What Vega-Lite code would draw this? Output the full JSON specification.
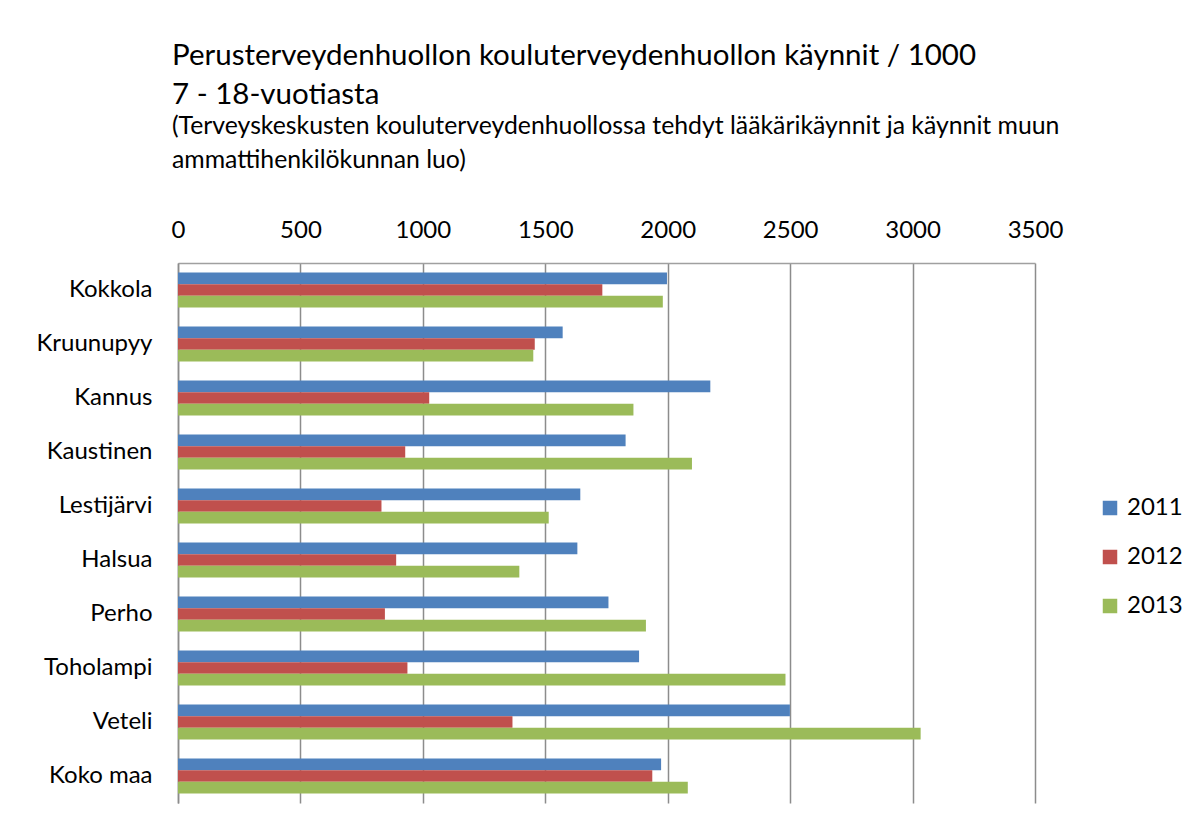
{
  "$schema": "https://vega.github.io/schema/vega-lite/v6.json",
  "width": 857,
  "height": 540,
  "autosize": {"type": "none"},
  "padding": {"left": 178, "top": 263, "right": 167, "bottom": 21},
  "background": "white",
  "title": {
    "text": ["Perusterveydenhuollon kouluterveydenhuollon käynnit / 1000", "7 - 18-vuotiasta"],
    "subtitle": ["(Terveyskeskusten kouluterveydenhuollossa tehdyt lääkärikäynnit ja käynnit muun", "ammattihenkilökunnan luo)"],
    "anchor": "start",
    "frame": "group",
    "dx": -6,
    "offset": 44,
    "font": "Lato",
    "fontSize": 29.5,
    "fontWeight": "normal",
    "color": "black",
    "lineHeight": 39,
    "subtitleFont": "Lato",
    "subtitleFontSize": 24.8,
    "subtitleColor": "black",
    "subtitleLineHeight": 34,
    "subtitlePadding": 4
  },
  "data": {
    "values": [
      {"alue": "Kokkola", "vuosi": "2011", "arvo": 1997},
      {"alue": "Kokkola", "vuosi": "2012", "arvo": 1733},
      {"alue": "Kokkola", "vuosi": "2013", "arvo": 1980},
      {"alue": "Kruunupyy", "vuosi": "2011", "arvo": 1571},
      {"alue": "Kruunupyy", "vuosi": "2012", "arvo": 1457},
      {"alue": "Kruunupyy", "vuosi": "2013", "arvo": 1451},
      {"alue": "Kannus", "vuosi": "2011", "arvo": 2174},
      {"alue": "Kannus", "vuosi": "2012", "arvo": 1026},
      {"alue": "Kannus", "vuosi": "2013", "arvo": 1860},
      {"alue": "Kaustinen", "vuosi": "2011", "arvo": 1828},
      {"alue": "Kaustinen", "vuosi": "2012", "arvo": 928},
      {"alue": "Kaustinen", "vuosi": "2013", "arvo": 2099},
      {"alue": "Lestijärvi", "vuosi": "2011", "arvo": 1643},
      {"alue": "Lestijärvi", "vuosi": "2012", "arvo": 831},
      {"alue": "Lestijärvi", "vuosi": "2013", "arvo": 1514},
      {"alue": "Halsua", "vuosi": "2011", "arvo": 1631},
      {"alue": "Halsua", "vuosi": "2012", "arvo": 891},
      {"alue": "Halsua", "vuosi": "2013", "arvo": 1394},
      {"alue": "Perho", "vuosi": "2011", "arvo": 1758},
      {"alue": "Perho", "vuosi": "2012", "arvo": 845},
      {"alue": "Perho", "vuosi": "2013", "arvo": 1911},
      {"alue": "Toholampi", "vuosi": "2011", "arvo": 1883},
      {"alue": "Toholampi", "vuosi": "2012", "arvo": 937},
      {"alue": "Toholampi", "vuosi": "2013", "arvo": 2481},
      {"alue": "Veteli", "vuosi": "2011", "arvo": 2499},
      {"alue": "Veteli", "vuosi": "2012", "arvo": 1366},
      {"alue": "Veteli", "vuosi": "2013", "arvo": 3033},
      {"alue": "Koko maa", "vuosi": "2011", "arvo": 1973},
      {"alue": "Koko maa", "vuosi": "2012", "arvo": 1937},
      {"alue": "Koko maa", "vuosi": "2013", "arvo": 2082}
    ]
  },
  "mark": {"type": "bar"},
  "encoding": {
    "y": {
      "field": "alue",
      "type": "nominal",
      "sort": null,
      "scale": {"paddingInner": 0.35, "paddingOuter": 0.175},
      "axis": {
        "title": null,
        "ticks": false,
        "labelPadding": 26,
        "labelFont": "Lato",
        "labelFontSize": 24,
        "labelColor": "black",
        "domainColor": "#8c8c8c",
        "domainWidth": 1.5
      }
    },
    "yOffset": {"field": "vuosi", "type": "nominal"},
    "x": {
      "field": "arvo",
      "type": "quantitative",
      "scale": {"domain": [0, 3500], "nice": false},
      "axis": {
        "orient": "top",
        "title": null,
        "values": [0, 500, 1000, 1500, 2000, 2500, 3000, 3500],
        "ticks": false,
        "labelPadding": 26,
        "labelBaseline": "alphabetic",
        "labelFont": "Lato",
        "labelFontSize": 24,
        "labelColor": "black",
        "labelFlush": false,
        "domainColor": "#a0a0a0",
        "domainWidth": 1.5,
        "grid": true,
        "gridColor": "#8c8c8c",
        "gridWidth": 1.5,
        "format": "d"
      }
    },
    "color": {
      "field": "vuosi",
      "type": "nominal",
      "scale": {"domain": ["2011", "2012", "2013"], "range": ["#4F81BD", "#C0504D", "#9BBB59"]},
      "legend": {
        "title": null,
        "orient": "none",
        "legendX": 920,
        "legendY": 233,
        "symbolType": "square",
        "symbolSize": 210,
        "symbolStrokeWidth": 0,
        "labelFont": "Lato",
        "labelFontSize": 24,
        "labelColor": "black",
        "labelOffset": 5,
        "rowPadding": 25
      }
    }
  },
  "config": {
    "view": {"stroke": null},
    "bar": {"stroke": null}
  }
}
